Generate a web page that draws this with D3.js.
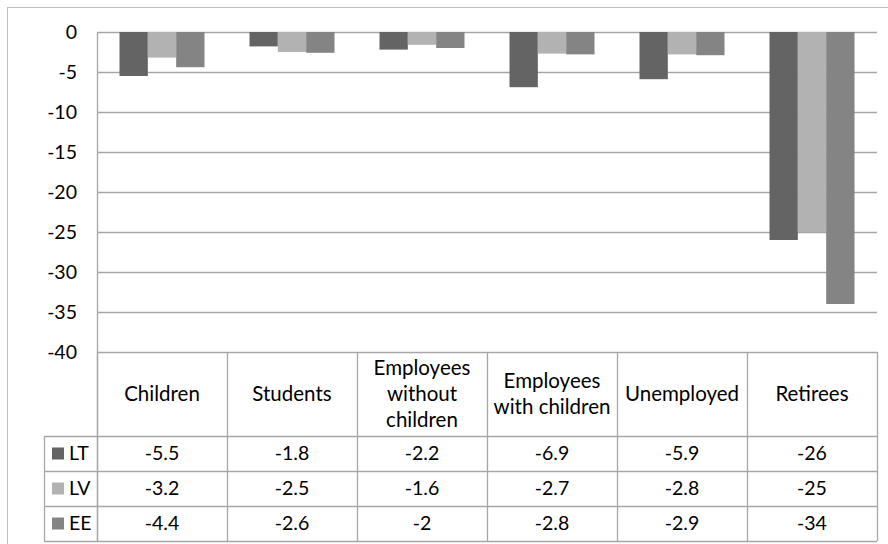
<!DOCTYPE html>
<html>
<head>
<meta charset="utf-8">
<script src="https://cdn.jsdelivr.net/npm/d3@7"></script>
<style>
  body { margin: 0; background: #fff; }
  svg { display: block; font-family: Lato, "Open Sans", sans-serif; }
</style>
</head>
<body>
<div id="container"></div>
<script>
const categories = ["Children", "Students", "Employees without children", "Employees with children", "Unemployed", "Retirees"];
const catLines = [["Children"], ["Students"], ["Employees", "without", "children"], ["Employees", "with children"], ["Unemployed"], ["Retirees"]];
const seriesNames = ["LT", "LV", "EE"];
const LT = [-5.5, -1.8, -2.2, -6.9, -5.9, -26];
const LV = [-3.2, -2.5, -1.6, -2.7, -2.8, -25];
const EE = [-4.4, -2.6, -2, -2.8, -2.9, -34];
const yTicks = [0, -5, -10, -15, -20, -25, -30, -35, -40];
const colors = ["#646464", "#b2b2b2", "#848484"];

const W = 888, H = 544;
const plotLeft = 97, plotRight = 877, plotTop = 32, plotBottom = 352;
const rowH = 35, headerBottom = 436;

let svg = d3.select("#container").append("svg").attr("width", W).attr("height", H);

// outer frame
svg.append("rect")
  .attr("x", 7.5).attr("y", 7.5)
  .attr("width", W).attr("height", H)
  .attr("fill", "none").attr("stroke", "#bfbfbf").attr("stroke-width", 1);

let x0 = d3.scaleBand().domain(categories).range([plotLeft, plotRight]);
let x1 = d3.scaleBand().domain(seriesNames).range([22.5, 107.5]);
let y = d3.scaleLinear().domain([0, -40]).range([plotTop, plotBottom]);

// gridlines
svg.append("g").selectAll("line").data(yTicks).join("line")
  .attr("x1", plotLeft).attr("x2", plotRight)
  .attr("y1", d => Math.round(y(d)) + 0.5).attr("y2", d => Math.round(y(d)) + 0.5)
  .attr("stroke", "#a6a6a6").attr("stroke-width", 1.3);

// y axis line
svg.append("line")
  .attr("x1", plotLeft + 0.5).attr("x2", plotLeft + 0.5)
  .attr("y1", plotTop).attr("y2", headerBottom + 3 * rowH)
  .attr("stroke", "#a6a6a6").attr("stroke-width", 1.3);

// tick labels
svg.append("g").selectAll("text").data(yTicks).join("text")
  .attr("x", 77).attr("y", d => y(d))
  .attr("dy", "0.36em")
  .attr("text-anchor", "end")
  .attr("font-size", 19.5)
  .attr("fill", "#000")
  .text(d => d === 0 ? "0" : "-" + Math.abs(d));

// bars
const allSeries = [LT, LV, EE];
allSeries.forEach((vals, si) => {
  svg.append("g").selectAll("rect").data(vals).join("rect")
    .attr("x", (d, i) => x0(categories[i]) + x1(seriesNames[si]))
    .attr("y", y(0))
    .attr("width", x1.bandwidth())
    .attr("height", d => y(d) - y(0))
    .attr("fill", colors[si]);
});

// data table
let tbl = svg.append("g").attr("stroke", "#a6a6a6").attr("stroke-width", 1.3);
categories.forEach((c, i) => {
  let xx = Math.round(x0(c)) + 0.5;
  tbl.append("line").attr("x1", xx).attr("x2", xx).attr("y1", plotBottom).attr("y2", headerBottom + 3 * rowH);
});
tbl.append("line").attr("x1", plotRight + 0.5).attr("x2", plotRight + 0.5).attr("y1", plotBottom).attr("y2", headerBottom + 3 * rowH);
for (let r = 0; r <= 3; r++) {
  let yy = headerBottom + r * rowH + 0.5;
  tbl.append("line").attr("x1", 44).attr("x2", plotRight).attr("y1", yy).attr("y2", yy);
}
tbl.append("line").attr("x1", 44.5).attr("x2", 44.5).attr("y1", headerBottom).attr("y2", headerBottom + 3 * rowH);

// category labels
catLines.forEach((lines, i) => {
  let cx = x0(categories[i]) + x0.bandwidth() / 2;
  let midY = (plotBottom + headerBottom) / 2;
  let lh = 26;
  lines.forEach((ln, k) => {
    svg.append("text")
      .attr("x", cx)
      .attr("y", midY + (k - (lines.length - 1) / 2) * lh)
      .attr("dy", "0.35em")
      .attr("text-anchor", "middle")
      .attr("font-size", 20.5)
      .text(ln);
  });
});

// legend column + values
allSeries.forEach((vals, si) => {
  let cy = headerBottom + si * rowH + rowH / 2;
  svg.append("rect").attr("x", 52).attr("y", cy - 6).attr("width", 12).attr("height", 12).attr("fill", colors[si]);
  svg.append("text").attr("x", 69).attr("y", cy).attr("dy", "0.35em")
    .attr("font-size", 19.5).text(seriesNames[si]);
  svg.append("g").selectAll("text").data(vals).join("text")
    .attr("x", (d, i) => x0(categories[i]) + x0.bandwidth() / 2)
    .attr("y", cy).attr("dy", "0.35em")
    .attr("text-anchor", "middle")
    .attr("font-size", 19.5)
    .text(d => d);
});
</script>
</body>
</html>
